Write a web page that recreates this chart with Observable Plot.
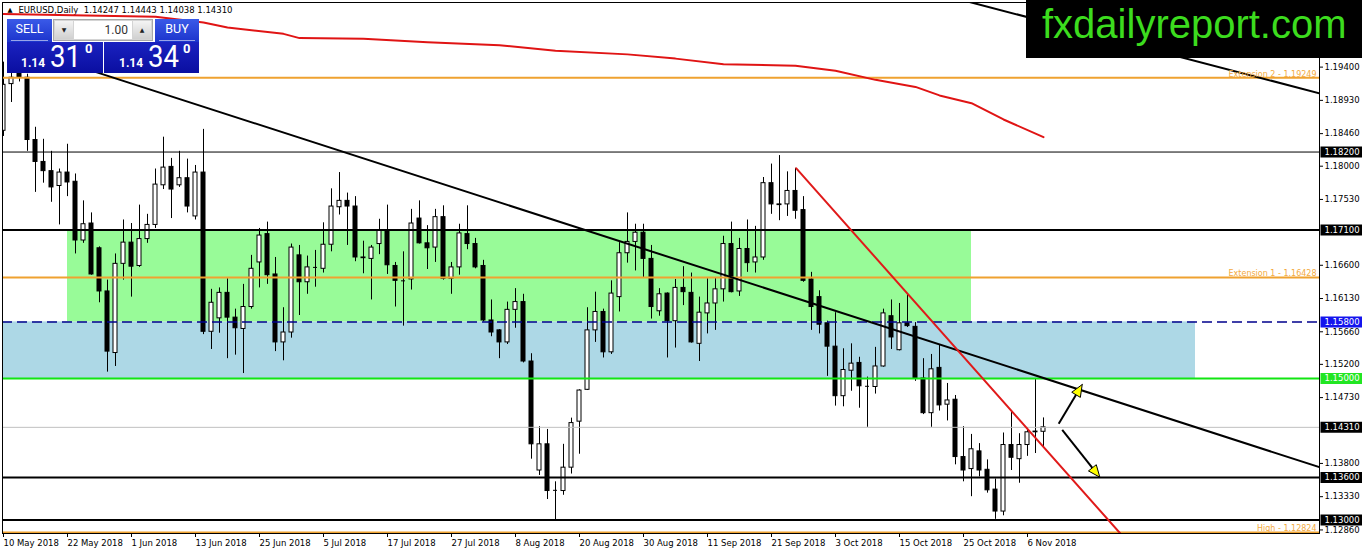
<!DOCTYPE html>
<html><head><meta charset="utf-8">
<script src="https://cdn.jsdelivr.net/npm/d3@7"></script>
<script src="https://cdn.jsdelivr.net/npm/@observablehq/plot@0.6"></script>
<style>
html,body{margin:0;padding:0;background:#fff;}
#wrap{position:relative;width:1362px;height:554px;overflow:hidden;background:#fff;}
#chart{position:absolute;left:0;top:0;}
.btn{position:absolute;top:19px;height:23px;background:linear-gradient(#3a5ae8,#1c34cc);color:#fff;font-family:Roboto,sans-serif;font-size:12.5px;text-align:center;line-height:20px;}
.btn::after{content:"";position:absolute;left:4px;right:4px;bottom:1px;height:1px;background:rgba(255,255,255,0.55);}
.vol{position:absolute;left:53px;top:19px;width:100px;height:22px;background:#d4d4d4;border:1px solid #a8a8a8;box-sizing:border-box;}
.vol .arr{position:absolute;top:1px;width:18px;height:18px;background:linear-gradient(#f4f4f4,#d0d0d0);font-family:"DejaVu Sans",sans-serif;font-size:6px;line-height:18px;text-align:center;color:#222;}
.vol .fld{position:absolute;left:20px;top:1px;width:58px;height:18px;background:#fff;font-family:Roboto,sans-serif;font-size:12px;line-height:18px;text-align:right;color:#333;box-sizing:border-box;padding-right:4px;}
.price{position:absolute;top:42px;height:31px;background:linear-gradient(#1a22c0,#0a0ea0);color:#fff;font-family:Roboto,sans-serif;}
.price span{position:absolute;line-height:1;white-space:nowrap;}
.price .sm{font-size:12px;font-weight:bold;top:15px;}
.price .big{font-size:32px;top:-2px;transform:scaleX(0.86);transform-origin:left top;}
.price .sup{font-size:13px;font-weight:bold;top:0px;}
#logo{position:absolute;left:1026px;top:0;width:336px;height:58px;background:#000;}
#logo span{position:absolute;left:16px;top:4px;font-family:"Liberation Sans",Arial,sans-serif;font-size:40px;line-height:1;color:#3cdc1e;white-space:nowrap;}
</style></head>
<body>
<div id="wrap">
  <div id="chart"></div>
  <div class="btn" style="left:7px;width:45px;">SELL</div>
  <div class="vol"><div class="arr" style="left:1px;">&#9660;</div><div class="fld">1.00</div><div class="arr" style="left:79px;">&#9650;</div></div>
  <div class="btn" style="left:155px;width:44px;">BUY</div>
  <div class="price" style="left:7px;width:96px;"><span class="sm" style="left:14px;">1.14</span><span class="big" style="left:43px;">31</span><span class="sup" style="left:78px;">0</span></div>
  <div class="price" style="left:104px;width:95px;"><span class="sm" style="left:15px;">1.14</span><span class="big" style="left:44px;">34</span><span class="sup" style="left:79px;">0</span></div>
  <div id="logo"><span>fxdailyreport.com</span></div>
</div>
<script>
// ---------------- DATA ----------------
const opens = [1.1850,1.1916,1.1940,1.1925,1.1837,1.1806,1.1793,1.1772,1.1791,1.1778,
1.1695,1.1719,1.1684,1.1623,1.1536,1.1662,1.1692,1.1659,1.1697,1.1717,
1.1773,1.1799,1.1773,1.1783,1.1729,1.1791,1.1566,1.1585,1.1621,1.1586,
1.1570,1.1601,1.1664,1.1704,1.1647,1.1551,1.1565,1.1674,1.1636,1.1657,
1.1655,1.1689,1.1742,1.1751,1.1743,1.1671,1.1669,1.1690,1.1709,1.1659,
1.1638,1.1640,1.1726,1.1691,1.1685,1.1728,1.1641,1.1657,1.1704,1.1690,
1.1659,1.1582,1.1568,1.1551,1.1597,1.1608,1.1524,1.1370,1.1407,1.1342,
1.1341,1.1374,1.1439,1.1484,1.1568,1.1594,1.1537,1.1615,1.1677,1.1693,
1.1706,1.1669,1.1595,1.1620,1.1581,1.1628,1.1621,1.1549,1.1592,1.1606,
1.1626,1.1690,1.1623,1.1683,1.1664,1.1671,1.1776,1.1746,1.1746,1.1765,
1.1738,1.1640,1.1615,1.1578,1.1545,1.1475,1.1511,1.1522,1.1489,1.1488,
1.1517,1.1588,1.1540,1.1578,1.1573,1.1500,1.1451,1.1515,1.1463,1.1470,
1.1389,1.1372,1.1397,1.1371,1.1343,1.1312,1.1406,1.1386,1.1406,1.1424,
1.14247];
const highs = [1.1947,1.1962,1.1975,1.1930,1.1855,1.1838,1.1821,1.1796,1.1831,1.1789,
1.1751,1.1734,1.1686,1.1639,1.1676,1.1724,1.1719,1.1745,1.1732,1.1796,
1.1841,1.1811,1.1821,1.1810,1.1801,1.1852,1.1626,1.1628,1.1641,1.1598,
1.1633,1.1674,1.1712,1.1721,1.1671,1.1600,1.1690,1.1688,1.1673,1.1681,
1.1720,1.1768,1.1791,1.1762,1.1757,1.1694,1.1688,1.1725,1.1745,1.1664,
1.1679,1.1739,1.1751,1.1716,1.1739,1.1744,1.1664,1.1718,1.1744,1.1698,
1.1667,1.1611,1.1569,1.1608,1.1627,1.1619,1.1535,1.1432,1.1428,1.1354,
1.1407,1.1444,1.1484,1.1600,1.1622,1.1598,1.1638,1.1692,1.1734,1.1718,
1.1718,1.1688,1.1627,1.1621,1.1640,1.1658,1.1649,1.1615,1.1641,1.1642,
1.1701,1.1721,1.1698,1.1724,1.1715,1.1784,1.1803,1.1815,1.1792,1.1797,
1.1757,1.1650,1.1624,1.1581,1.1593,1.1542,1.1549,1.1530,1.1502,1.1544,
1.1598,1.1611,1.1606,1.1619,1.1579,1.1528,1.1534,1.1548,1.1493,1.1476,
1.1432,1.1421,1.1408,1.1385,1.1358,1.1423,1.1452,1.1422,1.1430,1.1500,
1.14443];
const lows = [1.1842,1.1890,1.1919,1.1821,1.1763,1.1776,1.1749,1.1717,1.1757,1.1676,
1.1691,1.1646,1.1607,1.1509,1.1517,1.1639,1.1615,1.1657,1.1691,1.1712,
1.1767,1.1726,1.1770,1.1734,1.1724,1.1562,1.1541,1.1564,1.1528,1.1533,
1.1507,1.1598,1.1628,1.1633,1.1538,1.1525,1.1557,1.1589,1.1619,1.1629,
1.1649,1.1679,1.1731,1.1688,1.1665,1.1648,1.1611,1.1675,1.1647,1.1601,
1.1574,1.1625,1.1690,1.1654,1.1664,1.1639,1.1619,1.1646,1.1682,1.1655,
1.1580,1.1559,1.1528,1.1548,1.1571,1.1522,1.1386,1.1363,1.1329,1.1300,
1.1335,1.1365,1.1393,1.1483,1.1551,1.1529,1.1534,1.1594,1.1663,1.1652,
1.1642,1.1584,1.1588,1.1529,1.1543,1.1603,1.1550,1.1524,1.1563,1.1568,
1.1608,1.1621,1.1616,1.1650,1.1649,1.1667,1.1732,1.1723,1.1729,1.1725,
1.1636,1.1568,1.1563,1.1503,1.1461,1.1460,1.1482,1.1458,1.1431,1.1478,
1.1516,1.1541,1.1539,1.1572,1.1496,1.1449,1.1431,1.1454,1.1440,1.1378,
1.1354,1.1333,1.1361,1.1338,1.1301,1.1306,1.1370,1.1352,1.1390,1.1394,
1.14038];
const closes = [1.1915,1.1925,1.1926,1.1837,1.1806,1.1793,1.1770,1.1791,1.1777,1.1695,
1.1718,1.1647,1.1623,1.1538,1.1662,1.1692,1.1658,1.1697,1.1717,1.1774,
1.1798,1.1767,1.1783,1.1743,1.1791,1.1566,1.1607,1.1621,1.1586,1.1571,
1.1601,1.1655,1.1702,1.1646,1.1551,1.1565,1.1685,1.1636,1.1657,1.1657,
1.1689,1.1743,1.1751,1.1743,1.1671,1.1670,1.1685,1.1709,1.1660,1.1638,
1.1638,1.1719,1.1691,1.1684,1.1728,1.1641,1.1657,1.1705,1.1690,1.1657,
1.1582,1.1565,1.1551,1.1597,1.1608,1.1524,1.1407,1.1407,1.1341,1.1342,
1.1374,1.1437,1.1483,1.1568,1.1594,1.1537,1.1620,1.1677,1.1693,1.1706,
1.1669,1.1601,1.1619,1.1581,1.1628,1.1622,1.1551,1.1593,1.1606,1.1626,
1.1690,1.1622,1.1683,1.1663,1.1671,1.1776,1.1746,1.1745,1.1765,1.1737,
1.1638,1.1601,1.1576,1.1545,1.1475,1.1512,1.1521,1.1489,1.1489,1.1517,
1.1592,1.1558,1.1578,1.1574,1.1500,1.1451,1.1513,1.1462,1.1469,1.1389,
1.1370,1.1400,1.1370,1.1342,1.1312,1.1406,1.1388,1.1406,1.1424,1.1425,
1.14310];

// 200-day moving average (red), read at sampled bars
const maBars   = [0, 19, 25, 28, 35, 37, 45, 53, 62, 69, 78, 84, 90, 99, 104, 109, 114, 117, 121, 125, 130];
const maValues = [1.2015,1.2011,1.2003,1.1996,1.1987,1.1981,1.1980,1.1975,1.1971,1.1963,1.1958,1.1952,1.1944,1.1942,1.1935,1.1922,1.1912,1.1900,1.1889,1.1866,1.1841];

// date axis
const dateTickBars = [0,8,16,24,32,40,48,56,64,72,80,88,96,104,112,120,128];
const dateTickLabels = ["10 May 2018","22 May 2018","1 Jun 2018","13 Jun 2018","25 Jun 2018","5 Jul 2018","17 Jul 2018","27 Jul 2018","8 Aug 2018","20 Aug 2018","30 Aug 2018","11 Sep 2018","21 Sep 2018","3 Oct 2018","15 Oct 2018","25 Oct 2018","6 Nov 2018"];

// price axis
const priceTicks = [1.194,1.1893,1.1846,1.18,1.1753,1.166,1.1613,1.1566,1.152,1.1473,1.138,1.1333,1.1286];

// horizontal levels
const blackLevels = [1.182, 1.171, 1.136, 1.13];
const orangeLevels = [1.19249, 1.16428, 1.12824];
const orangeLabels = ["Extension 2 - 1.19249", "Extension 1 - 1.16428", "High - 1.12824"];
const blueDashedLevel = 1.158;
const greenLevel = 1.15;
const currentPrice = 1.1431;
const boxedPrices = [1.182, 1.171, 1.158, 1.15, 1.1431, 1.136, 1.13];

// zones
const greenZone = {b1: 8, b2: 121, p1: 1.158, p2: 1.171};
const blueZone = {b1: -2, b2: 149, p1: 1.150, p2: 1.158};

// trendlines (bar, price)
const trendBars1 = [5, 164.5],   trendPrices1 = [1.1957, 1.13747];
const trendBars2 = [116, 164.5], trendPrices2 = [1.2046, 1.1903];
const redTrendBars = [99.1, 139.6], redTrendPrices = [1.1797, 1.1281];

// arrows
const arrowStartBars = [131.9, 132.34], arrowStartPrices = [1.1436, 1.14275];
const arrowEndBars   = [134.84, 137.04], arrowEndPrices  = [1.14915, 1.13605];

const title = "EURUSD,Daily  1.14247 1.14443 1.14038 1.14310";

// ---------------- CHART ----------------
const W = 1362, H = 554, mL = 2, mR = 43, mT = 2, mB = 21;
const xDom = [-0.125, 164.5];
const yDom = [1.128098, 1.20313];
const pxPerBar = (W - mL - mR) / (xDom[1] - xDom[0]);
const pxPerPrice = (H - mT - mB) / (yDom[1] - yDom[0]);

const bars = opens.map((o, i) => ({i, o, h: highs[i], l: lows[i], c: closes[i]}));
const bw = 2 / pxPerBar;
const ups = bars.filter(d => d.c > d.o + 0.00006);
const downs = bars.filter(d => d.c < d.o - 0.00006);
const dojis = bars.filter(d => Math.abs(d.c - d.o) <= 0.00006);

const ma = maBars.map((b, k) => ({b, v: maValues[k]}));
const tl1 = trendBars1.map((b, k) => ({b, p: trendPrices1[k]}));
const tl2 = trendBars2.map((b, k) => ({b, p: trendPrices2[k]}));
const rtl = redTrendBars.map((b, k) => ({b, p: redTrendPrices[k]}));

const ORANGE = "#efa230", ORANGE_TXT = "#f3aa3e";
const boxColor = p => p === 1.158 ? "#1414ee" : p === 1.15 ? "#22e622" : "#000";
const boxes = boxedPrices.map(p => ({p, col: boxColor(p)}));
const orangeLab = orangeLevels.map((p, k) => ({p, t: orangeLabels[k]}));

// arrows: shafts + filled heads
const headLen = 12, headHalf = 5;
const shafts = [], heads = [];
arrowStartBars.forEach((sb, k) => {
  const a = {x1: sb, y1: arrowStartPrices[k], x2: arrowEndBars[k], y2: arrowEndPrices[k]};
  const dxp = (a.x2 - a.x1) * pxPerBar, dyp = -(a.y2 - a.y1) * pxPerPrice;
  const len = Math.hypot(dxp, dyp), ux = dxp / len, uy = dyp / len;
  const bx = -ux * headLen, by = -uy * headLen, qx = -uy, qy = ux;
  const toData = (ox, oy) => ({x: a.x2 + ox / pxPerBar, y: a.y2 - oy / pxPerPrice, k});
  const base = toData(bx, by);
  shafts.push({x1: a.x1, y1: a.y1, x2: base.x, y2: base.y});
  heads.push(toData(0, 0), toData(bx + qx * headHalf, by + qy * headHalf), toData(bx - qx * headHalf, by - qy * headHalf), toData(0, 0));
});

const plot = Plot.plot({
  width: W, height: H,
  marginLeft: mL, marginRight: mR, marginTop: mT, marginBottom: mB,
  style: {fontFamily: "DejaVu Sans, sans-serif", fontSize: "8.5px", background: "white", color: "black"},
  x: {type: "linear", domain: xDom, axis: null},
  y: {type: "linear", domain: yDom, axis: null},
  marks: [
    // zones
    Plot.rect([blueZone], {x1: "b1", x2: "b2", y1: "p1", y2: "p2", fill: "#add8e6", clip: true}),
    Plot.rect([greenZone], {x1: "b1", x2: "b2", y1: "p1", y2: "p2", fill: "#98fb98", clip: true}),
    // title
    Plot.text(["\u25B2"], {frameAnchor: "top-left", text: d => d, dx: 5, dy: 5, fontSize: 6.5, lineAnchor: "top", textAnchor: "start", fill: "black"}),
    Plot.text([title], {frameAnchor: "top-left", text: d => d, dx: 16, dy: 4, lineAnchor: "top", textAnchor: "start", fill: "black"}),
    // candles
    Plot.ruleX(bars, {x: "i", y1: "l", y2: "h", stroke: "black", strokeWidth: 1, clip: true}),
    Plot.rect(ups, {x1: d => d.i - bw, x2: d => d.i + bw, y1: "o", y2: "c", fill: "white", stroke: "black", strokeWidth: 1, clip: true}),
    Plot.rect(downs, {x1: d => d.i - bw, x2: d => d.i + bw, y1: "o", y2: "c", fill: "black", stroke: "black", strokeWidth: 1, clip: true}),
    Plot.ruleY(dojis, {y: "c", x1: d => d.i - bw, x2: d => d.i + bw, stroke: "black", strokeWidth: 1, clip: true}),
    // horizontal levels
    Plot.ruleY([currentPrice], {stroke: "#c0c0c0", strokeWidth: 1}),
    Plot.ruleY([blackLevels[0]], {stroke: "black", strokeWidth: 1}),
    Plot.ruleY(blackLevels.slice(1), {stroke: "black", strokeWidth: 2}),
    Plot.ruleY(orangeLevels, {stroke: ORANGE, strokeWidth: 2}),
    Plot.ruleY([blueDashedLevel], {stroke: "#00008c", strokeWidth: 1.5, strokeDasharray: "10,5"}),
    Plot.ruleY([greenLevel], {stroke: "#12e612", strokeWidth: 2}),
    // trendlines
    Plot.line(tl1, {x: "b", y: "p", stroke: "black", strokeWidth: 2, clip: true}),
    Plot.line(tl2, {x: "b", y: "p", stroke: "black", strokeWidth: 2, clip: true}),
    Plot.line(rtl, {x: "b", y: "p", stroke: "#e01a1a", strokeWidth: 2, clip: true}),
    // moving average
    Plot.line(ma, {x: "b", y: "v", stroke: "#e01414", strokeWidth: 2, clip: true}),
    // arrows
    Plot.link(shafts, {x1: "x1", y1: "y1", x2: "x2", y2: "y2", stroke: "black", strokeWidth: 2}),
    Plot.line(heads, {x: "x", y: "y", z: "k", fill: "#ffff00", stroke: "black", strokeWidth: 1}),
    // level labels
    Plot.text(orangeLab, {x: xDom[1], y: "p", text: "t", dx: -3, dy: -1, textAnchor: "end", lineAnchor: "bottom", fill: ORANGE_TXT, fontSize: 8}),
    // frame and axes
    Plot.frame({stroke: "black", strokeWidth: 1}),
    Plot.axisY({anchor: "right", ticks: priceTicks, tickFormat: d3.format(".5f"), tickSize: 3, tickPadding: 2, label: null}),
    Plot.axisX({anchor: "bottom", ticks: dateTickBars, tickFormat: d => dateTickLabels[dateTickBars.indexOf(d)], tickSize: 4, tickPadding: 2, textAnchor: "start", label: null}),
    // boxed price labels
    Plot.ruleY(boxes, {y: "p", x1: xDom[1] + 1.5 / pxPerBar, x2: xDom[1] + 60 / pxPerBar, stroke: "col", strokeWidth: 11}),
    Plot.text(boxes, {x: xDom[1], y: "p", dx: 5, text: d => d3.format(".5f")(d.p), textAnchor: "start", fill: "white"})
  ]
});
document.getElementById("chart").appendChild(plot);
</script>
</body></html>
